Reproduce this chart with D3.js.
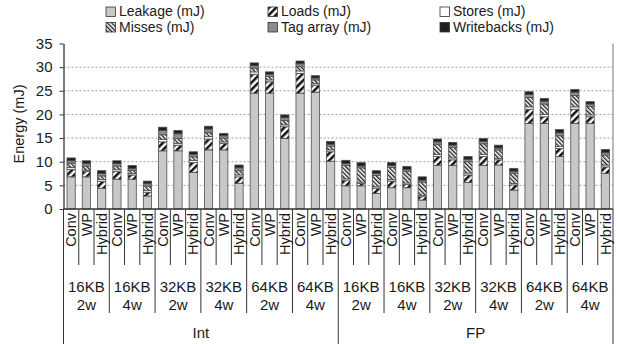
<!DOCTYPE html>
<html><head><meta charset="utf-8">
<script src="https://cdn.jsdelivr.net/npm/d3@7"></script>
<style>body{margin:0;background:#fff}svg text{font-family:"Liberation Sans",Arial,sans-serif;fill:#1a1a1a}</style>
</head><body><svg id="c" width="617" height="344"></svg>
<script>
const workloads = ["Int", "FP"];
const configs = [["16KB","2w"],["16KB","4w"],["32KB","2w"],["32KB","4w"],["64KB","2w"],["64KB","4w"]];
const schemes = ["Conv", "WP", "Hybrid"];
const seriesNames = ["Leakage (mJ)", "Loads (mJ)", "Stores (mJ)", "Misses (mJ)", "Tag array (mJ)", "Writebacks (mJ)"];
const yTicks = [0, 5, 10, 15, 20, 25, 30, 35];

const leakage = [6.8,6.8,4.4, 6.3,6.3,2.75, 12.3,12.3,7.75, 12.5,12.5,5.4, 24.5,24.5,14.9, 24.5,24.7,10.1,
  4.9,4.9,3.3, 4.5,4.5,1.9, 9.2,9.2,5.6, 9.2,9.3,4.0, 18.1,18.1,11.1, 18.1,18.1,7.5];
const loads = [1.6,1.1,1.4, 1.6,0.9,0.8, 1.9,1.2,2.1, 2.3,1.4,1.4, 4.0,2.4,2.5, 4.2,1.5,2.0,
  1.2,0.5,1.1, 1.4,0.7,0.7, 1.9,1.2,1.6, 1.9,1.1,1.1, 3.0,1.4,1.7, 3.0,1.4,1.4];
const stores = [0.4,0.3,0.4, 0.4,0.3,0.4, 0.5,0.4,0.4, 0.5,0.3,0.4, 0.5,0.4,0.4, 0.5,0.3,0.4,
  0.3,0.3,0.3, 0.3,0.3,0.3, 0.4,0.4,0.4, 0.4,0.3,0.3, 0.5,0.5,0.4, 0.5,0.4,0.4];
const misses = [0.9,0.9,0.8, 0.8,0.7,0.9, 1.0,1.0,0.8, 0.9,0.8,0.9, 0.8,0.7,0.9, 0.9,0.8,0.8,
  2.8,3.0,2.4, 2.6,2.5,2.8, 2.2,2.2,2.4, 2.3,1.8,2.2, 2.0,2.2,2.3, 2.4,1.8,2.1];
const tagArray = [0.5,0.5,0.5, 0.5,0.4,0.5, 0.9,1.0,0.5, 0.7,0.5,0.6, 0.5,0.5,0.6, 0.6,0.4,0.4,
  0.4,0.4,0.4, 0.4,0.4,0.4, 0.5,0.5,0.5, 0.5,0.4,0.4, 0.6,0.6,0.6, 0.7,0.5,0.5];
const writebacks = [0.6,0.6,0.6, 0.6,0.6,0.55, 0.7,0.7,0.55, 0.6,0.5,0.6, 0.6,0.5,0.6, 0.6,0.5,0.6,
  0.7,0.7,0.6, 0.6,0.6,0.7, 0.6,0.6,0.6, 0.6,0.6,0.6, 0.6,0.6,0.7, 0.6,0.5,0.7];

const seriesData = [leakage, loads, stores, misses, tagArray, writebacks];
const rows = [];
workloads.forEach((w, wi) => configs.forEach((c, ci) => schemes.forEach((s, si) => {
  const i = wi * 18 + ci * 3 + si;
  const r = {i, w, c, s};
  seriesNames.forEach((n, k) => r[n] = seriesData[k][i]);
  rows.push(r);
})));

const svg = d3.select("#c");
const defs = svg.append("defs");
const p1 = defs.append("pattern").attr("id","pLoads").attr("patternUnits","userSpaceOnUse")
  .attr("width",5).attr("height",5).attr("patternTransform","rotate(45)");
p1.append("rect").attr("width",5).attr("height",5).attr("fill","#fff");
p1.append("rect").attr("width",2.5).attr("height",5).attr("fill","#111");
const p2 = defs.append("pattern").attr("id","pMisses").attr("patternUnits","userSpaceOnUse")
  .attr("width",3).attr("height",3).attr("patternTransform","rotate(-45)");
p2.append("rect").attr("width",3).attr("height",3).attr("fill","#fff");
p2.append("rect").attr("width",1.4).attr("height",3).attr("fill","#222");

const fills = ["#c8c8c8", "url(#pLoads)", "#ffffff", "url(#pMisses)", "#8c8c8c", "#1e1e1e"];
const color = d3.scaleOrdinal().domain(seriesNames).range(fills);

const x0 = 63.5, x1 = 613;
const slot = d3.scaleLinear().domain([0, 36]).range([x0, x1]);
const x = d3.scaleBand().domain(d3.range(36)).range([x0, x1]).paddingInner(0.46).paddingOuter(0.23);
const y = d3.scaleLinear().domain([0, 35]).range([209, 43.5]);

svg.append("g").selectAll("line").data(yTicks.filter(t => t > 0 && t < 35)).join("line")
  .attr("x1", x0).attr("x2", x1).attr("y1", d => y(d)).attr("y2", d => y(d))
  .attr("stroke", "#a0a0a0").attr("stroke-width", 1).attr("stroke-dasharray", "2,2");

svg.append("line").attr("x1", x1).attr("x2", x1).attr("y1", y(35)).attr("y2", y(0))
  .attr("stroke", "#777").attr("stroke-width", 1);

const stack = d3.stack().keys(seriesNames)(rows);
svg.append("g").selectAll("g").data(stack).join("g")
  .attr("fill", d => color(d.key))
  .selectAll("rect").data(d => d).join("rect")
  .attr("x", d => x(d.data.i)).attr("width", x.bandwidth())
  .attr("y", d => y(d[1])).attr("height", d => y(d[0]) - y(d[1]))
  .attr("stroke", "#505050").attr("stroke-width", 0.8);

const yAxis = svg.append("g").attr("transform", `translate(${x0},0)`)
  .call(d3.axisLeft(y).tickValues(yTicks).tickSize(4).tickSizeOuter(0).tickPadding(7));
yAxis.select(".domain").attr("stroke", "#333").attr("stroke-width", 1.3);
yAxis.selectAll(".tick line").attr("stroke", "#333");
yAxis.selectAll("text").attr("font-size", 15).attr("font-family", "Liberation Sans, Arial, sans-serif").attr("fill", "#1a1a1a");

svg.append("text").attr("transform", "translate(24,124) rotate(-90)")
  .attr("text-anchor", "middle").attr("font-size", 14.5).text("Energy (mJ)");

svg.append("line").attr("x1", x0).attr("x2", x1).attr("y1", y(0)).attr("y2", y(0))
  .attr("stroke", "#333").attr("stroke-width", 1.3);

svg.append("g").selectAll("line").data(d3.range(37)).join("line")
  .attr("x1", k => slot(k)).attr("x2", k => slot(k)).attr("y1", y(0))
  .attr("y2", k => k % 18 === 0 ? 344 : (k % 3 === 0 ? 313 : 265))
  .attr("stroke", "#333").attr("stroke-width", 1);

svg.append("g").selectAll("text").data(rows).join("text")
  .attr("transform", d => `translate(${x(d.i) + x.bandwidth() / 2},213) rotate(-90)`)
  .attr("text-anchor", "end").attr("dy", "0.36em").attr("font-size", 14.5).text(d => d.s);

const groups = d3.range(12);
svg.append("g").selectAll("text").data(groups).join("text")
  .attr("x", g => (slot(g * 3) + slot(g * 3 + 3)) / 2).attr("y", 292)
  .attr("text-anchor", "middle").attr("font-size", 15).text(g => configs[g % 6][0]);
svg.append("g").selectAll("text").data(groups).join("text")
  .attr("x", g => (slot(g * 3) + slot(g * 3 + 3)) / 2).attr("y", 310)
  .attr("text-anchor", "middle").attr("font-size", 15).text(g => configs[g % 6][1]);

svg.append("g").selectAll("text").data(workloads).join("text")
  .attr("x", (d, i) => (slot(i * 18) + slot(i * 18 + 18)) / 2).attr("y", 338)
  .attr("text-anchor", "middle").attr("font-size", 15).text(d => d);

const legX = [106, 268, 440];
const leg = svg.append("g").selectAll("g").data(seriesNames).join("g")
  .attr("transform", (d, i) => {
    const col = [0, 1, 2, 0, 1, 2][i], row = i < 3 ? 0 : 1;
    return `translate(${legX[col]},${row === 0 ? 7 : 22.5})`;
  });
leg.append("rect").attr("width", 9.5).attr("height", 9.5).attr("fill", d => color(d))
  .attr("stroke", "#333").attr("stroke-width", 0.8);
leg.append("text").attr("x", 13).attr("y", 9.3).attr("font-size", 14).text(d => d);
</script></body></html>
